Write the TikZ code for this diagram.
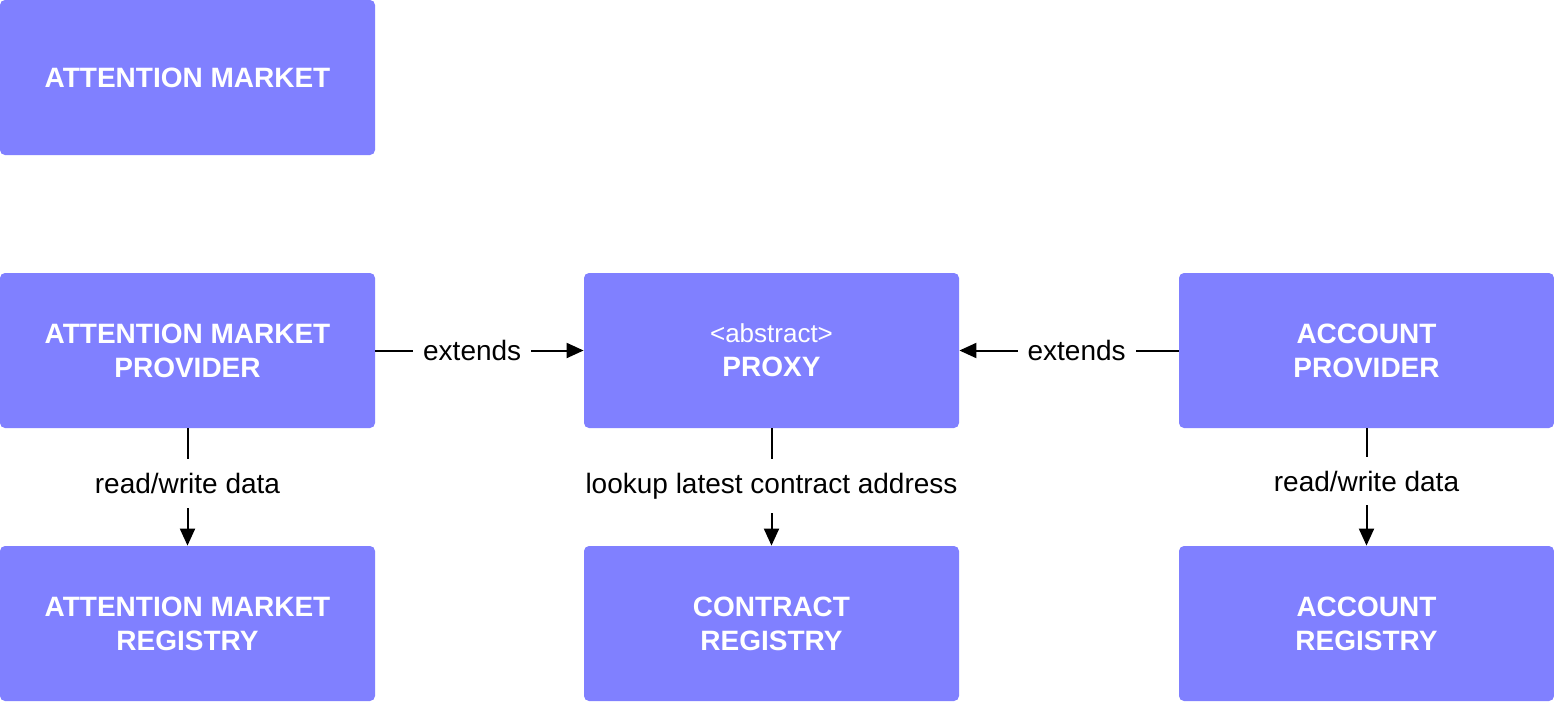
\documentclass[tikz,border=0pt]{standalone}
\usepackage{fontspec}
\setmainfont{Liberation Sans}
\usetikzlibrary{arrows.meta}
\definecolor{boxblue}{HTML}{8080FF}
\tikzset{
  box/.style={fill=boxblue, draw=none, rounded corners=2.5pt, minimum width=187.5pt, minimum height=77.5pt,
    text=white, font=\fontsize{14}{17}\selectfont\bfseries, align=center, inner sep=0pt},
  conn/.style={line width=1pt, -{Triangle[length=8.5pt,width=7.5pt]}},
  lbl/.style={fill=white, font=\fontsize{14}{17}\selectfont, text=black},
}
\begin{document}
\begin{tikzpicture}[x=0.5pt,y=-0.5pt]
\useasboundingbox (0,0) rectangle (1554,702);
\node[box] (am) at (187.5,77.5) {ATTENTION MARKET};
\node[box] (amp) at (187.5,350.5) {ATTENTION MARKET\\PROVIDER};
\node[box] (proxy) at (771.5,350.5) {{\fontsize{13}{17}\selectfont\mdseries <abstract>}\\PROXY};
\node[box] (ap) at (1366.5,350.5) {ACCOUNT\\PROVIDER};
\node[box] (amr) at (187.5,623.5) {ATTENTION MARKET\\REGISTRY};
\node[box] (cr) at (771.5,623.5) {CONTRACT\\REGISTRY};
\node[box] (ar) at (1366.5,623.5) {ACCOUNT\\REGISTRY};
\draw[conn] (amp.east) -- node[lbl, pos=0.465, inner xsep=5pt] {extends} (proxy.west);
\draw[conn] (ap.west) -- node[lbl, pos=0.465, inner xsep=5pt] {extends} (proxy.east);
\draw[conn] (amp.south) -- node[lbl, pos=0.47, inner ysep=7pt, inner xsep=0pt] {read/write data} (amr.north);
\draw[conn] (proxy.south) -- node[lbl, pos=0.49, inner ysep=7pt, inner xsep=0pt] {lookup latest contract address} (cr.north);
\draw[conn] (ap.south) -- node[lbl, pos=0.45, inner ysep=7pt, inner xsep=0pt] {read/write data} (ar.north);
\end{tikzpicture}
\end{document}
